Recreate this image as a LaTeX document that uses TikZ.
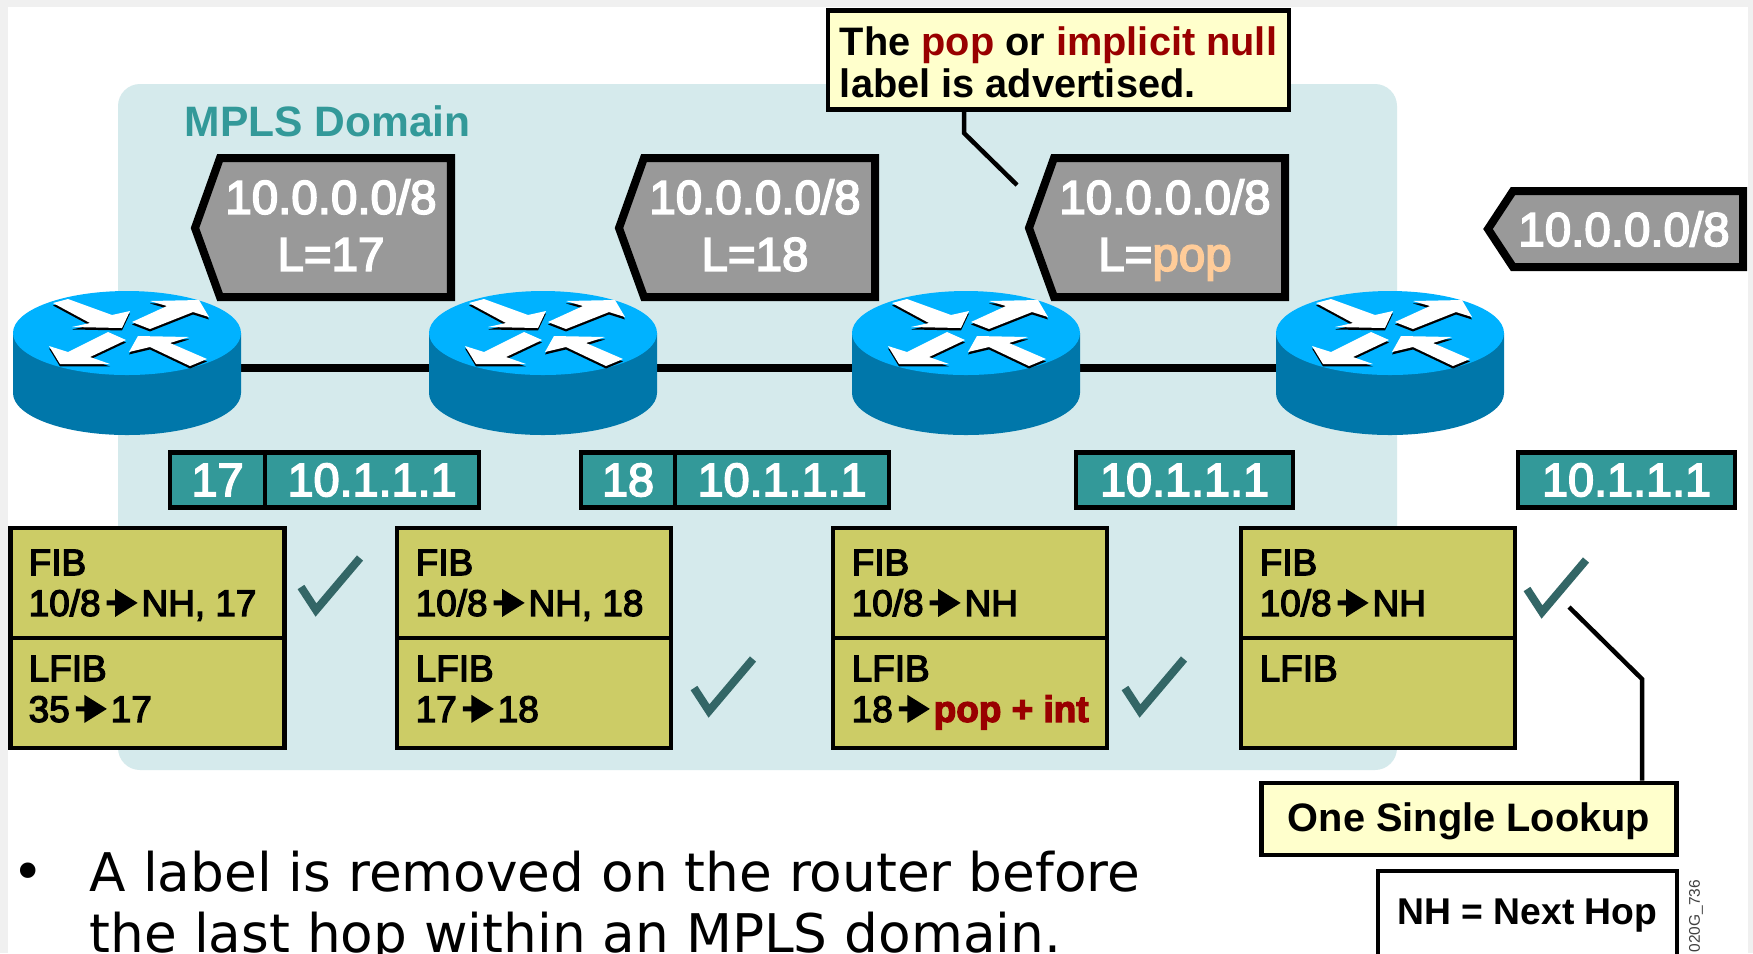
\documentclass[tikz,border=0pt]{standalone}
\usepackage{fontspec}
\setmainfont{Liberation Sans}
\newfontfamily\dejavu{DejaVu Sans}
\newfontfamily\heavy{Liberation Sans}[FakeBold=3.5]
\usetikzlibrary{positioning}
\definecolor{domainbg}{HTML}{D5EAEC}
\definecolor{teal}{HTML}{339999}
\definecolor{olive}{HTML}{CCCC66}
\definecolor{cream}{HTML}{FFFFCC}
\definecolor{tick}{HTML}{336666}
\definecolor{routertop}{HTML}{00B2FF}
\definecolor{routerside}{HTML}{0077AA}
\definecolor{darkred}{HTML}{990000}
\definecolor{peach}{HTML}{FFCC99}
\newcommand{\fibarrow}{\,\tikz[baseline=0pt,x=1pt,y=1pt]\fill[black] (0,3) -- (2.4,3) -- (2.4,-.3) -- (8.8,3.7) -- (2.4,7.7) -- (2.4,4.4) -- (0,4.4) -- cycle;\kern1.1pt}
\begin{document}
\begin{tikzpicture}[x=.01cm,y=-.01cm,line join=miter,
  tagshape/.style={draw=black,fill=black!40,line width=.08cm},
  tagtext/.style={text=white,font=\heavy\fontsize{13.5}{16.2}\selectfont,align=center,inner sep=0pt},
  lblbox/.style={draw=black,fill=teal,line width=.045cm,text=white,font=\heavy\fontsize{13.3}{15}\selectfont,
    minimum height=.55cm,inner sep=0pt,outer sep=0pt,anchor=west},
  fibbox/.style={draw=black,fill=olive,line width=.045cm,minimum width=2.74cm,minimum height=1.1cm,inner sep=0pt},
  fibtext/.style={font=\heavy\fontsize{10.5}{11.6}\selectfont,align=left,inner sep=0pt,anchor=north west},
  note/.style={draw=black,fill=cream,line width=.045cm,font=\fontsize{11.3}{12.1}\selectfont\bfseries,inner sep=0pt},
  leader/.style={draw=black,line width=.045cm},
  check/.style={draw=tick,line width=.08cm}]
\useasboundingbox (0,0) rectangle (1753,953);
\fill[white] (0,0) rectangle (1753,953);
\fill[black!6] (0,0) rectangle (8,953);
\fill[black!6] (1748,0) rectangle (1753,953);
\fill[black!6] (0,0) rectangle (1753,7);
% domain
\fill[domainbg,rounded corners=.22cm] (118,84) rectangle (1397,770);
\node[text=teal,font=\fontsize{12.1}{14}\selectfont\bfseries,inner sep=0pt,anchor=west] (dom) at (184,121) {MPLS Domain};
% link
\coordinate (r1) at (127,368);
\coordinate (r2) at (543,368);
\coordinate (r3) at (966,368);
\coordinate (r4) at (1390,368);
\draw[line width=.08cm] (r1) -- (r2) -- (r3) -- (r4);
% routers
\foreach \rx in {127,543,966,1390} {
  \begin{scope}[shift={(\rx,333)}]
  \fill[routerside] (-114,0) -- (-114,60) arc[start angle=180,end angle=360,x radius=114,y radius=-42] -- (114,0) -- cycle;
  \fill[routertop] (0,0) ellipse[x radius=114,y radius=42];
  \foreach \dy/\col in {-.7/black,0/white} {
    \fill[\col,yshift=\dy] (-74,-30) -- (-59,-34) -- (-15,-18) -- (3,-22) -- (-5,-5) -- (-55,-6) -- (-37,-10) -- cycle;
    \fill[\col,yshift=\dy] (5,-11) -- (40,-27) -- (23,-32) -- (72,-33) -- (82,-16) -- (66,-21) -- (23,-4) -- cycle;
    \fill[\col,yshift=\dy] (-1,7) -- (-37,24) -- (-17,31) -- (-67,31) -- (-78,13) -- (-59,19) -- (-19,-1) -- cycle;
    \fill[\col,yshift=\dy] (2,19) -- (11,3) -- (62,4) -- (43,10) -- (80,26) -- (63,33) -- (23,14) -- cycle;
  }
  \end{scope}
}
% advertised prefixes
\foreach \tx in {195,619,1029}
  \filldraw[tagshape] (\tx,228) -- ++(25,-70) -- ++(231,0) -- ++(0,139) -- ++(-231,0) -- cycle;
\filldraw[tagshape] (1488,229) -- ++(25,-38) -- (1743,191) -- (1743,267) -- (1513,267) -- cycle;
\node[tagtext] (t1) at (331,230) {10.0.0.0/8\\L=17\vphantom{p}};
\node[tagtext] (t2) at (755,230) {10.0.0.0/8\\L=18\vphantom{p}};
\node[tagtext] (t3) at (1165,230) {10.0.0.0/8\\L=\textcolor{peach}{pop}};
\node[tagtext] (t4) at (1624,229) {10.0.0.0/8};
% packets
\node[lblbox,minimum width=.95cm] (p1a) at (170,480) {17};
\node[lblbox,minimum width=2.14cm] (p1b) at (p1a.east) {10.1.1.1};
\node[lblbox,minimum width=.94cm] (p2a) at (581,480) {18};
\node[lblbox,minimum width=2.14cm] (p2b) at (p2a.east) {10.1.1.1};
\node[lblbox,minimum width=2.17cm] (p3) at (1076,480) {10.1.1.1};
\node[lblbox,minimum width=2.17cm] (p4) at (1518,480) {10.1.1.1};
% tables
\node[fibbox] (f1) at (147.5,583) {};
\node[fibbox] (l1) at (147.5,693) {};
\node[fibbox] (f2) at (534,583) {};
\node[fibbox] (l2) at (534,693) {};
\node[fibbox] (f3) at (970,583) {};
\node[fibbox] (l3) at (970,693) {};
\node[fibbox] (f4) at (1378,583) {};
\node[fibbox] (l4) at (1378,693) {};
\node[fibtext] (ft1) at (28,549) {FIB\\10/8\fibarrow NH, 17};
\node[fibtext] (lt1) at (28,655) {LFIB\\35\fibarrow 17};
\node[fibtext] (ft2) at (415,549) {FIB\\10/8\fibarrow NH, 18};
\node[fibtext] (lt2) at (415,655) {LFIB\\17\fibarrow 18};
\node[fibtext] (ft3) at (851,549) {FIB\\10/8\fibarrow NH};
\node[fibtext] (lt3) at (851,655) {LFIB\\18\fibarrow\textcolor{darkred}{\bfseries pop + int}};
\node[fibtext] (ft4) at (1259,549) {FIB\\10/8\fibarrow NH};
\node[fibtext] (lt4) at (1259,655) {LFIB};
% checks
\foreach \cx/\cy in {316/610,709/711,1140/711,1542/612}
  \draw[check] (\cx-15,\cy-23) -- (\cx,\cy) -- (\cx+44,\cy-52);
% callouts
\node[note,minimum width=4.61cm,minimum height=.99cm,align=left] (pop) at (1058.5,60)
  {\rule{0pt}{9.6pt}The \textcolor{darkred}{pop} or \textcolor{darkred}{implicit null}\\label is advertised.};
\coordinate (popa) at (964,133);
\coordinate (popb) at (1017,185);
\draw[leader] (pop.south -| popa) -- (popa) -- (popb);
\node[note,minimum width=4.15cm,minimum height=.72cm,text height=9pt,text depth=2pt] (single) at (1469,819) {One Single Lookup};
\coordinate (onea) at (1569,607);
\coordinate (oneb) at (1642,679);
\draw[leader] (onea) -- (oneb) -- (single.north -| oneb);
\node[note,fill=white,minimum width=2.99cm,minimum height=.94cm,text height=6pt,text depth=2.6pt,font=\fontsize{10.6}{12}\selectfont\bfseries] (nh) at (1527.5,918) {NH = Next Hop};
\node[rotate=90,anchor=west,font=\fontsize{4.4}{5}\selectfont,inner sep=0pt,text=black!75] (code) at (1696,953) {020G\_736};
% bullet
\node[font=\dejavu\fontsize{15.15}{17.3}\selectfont,inner sep=0pt] (dot) at (28,877) {•};
\node[font=\dejavu\fontsize{15.15}{17.3}\selectfont,inner sep=0pt,align=left,anchor=base west] (txt) at (89,952)
  {A label is removed on the router before\\the last hop within an MPLS domain.};
\end{tikzpicture}
\end{document}
